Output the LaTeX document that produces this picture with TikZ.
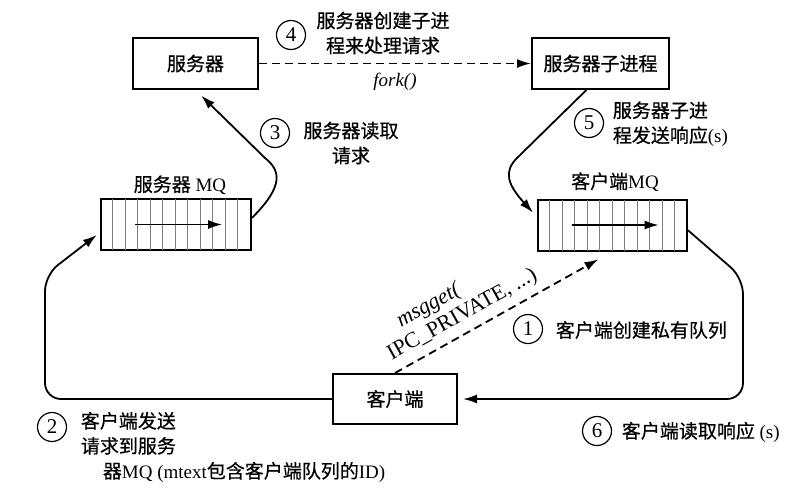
\documentclass[tikz,border=0pt]{standalone}
\usepackage{fontspec}
\setmainfont{Liberation Serif}
\newfontfamily\cjk{Noto Sans CJK SC}[FakeBold=0.6]
\newcommand{\zhtext}[1]{{\cjk #1}}
\usepackage{tikz}
\usetikzlibrary{arrows.meta}

\begin{document}
\begin{tikzpicture}[x=0.5pt, y=-0.5pt, line width=0.9pt,
        every node/.style={font=\fontsize{9.5}{12.5}\selectfont},
        box/.style={rectangle, draw, line width=1pt, minimum width=62.5pt, minimum height=25.5pt},
        queue/.style={rectangle, draw, line width=1pt, minimum width=75pt, minimum height=25.5pt},
        num/.style={circle, draw, line width=0.6pt, minimum size=14.5pt, inner sep=0pt, font=\fontsize{10.5}{12}\selectfont},
        txt/.style={inner sep=0pt},
        arr/.style={-{Latex[length=7pt, width=4.5pt]}},
        dashline/.style={dash pattern=on 4pt off 2.5pt}]
    \useasboundingbox (0,0) rectangle (798,493);

    \node[box] at (195.5,63.5) (srv) {\zhtext{服务器}};
    \node[box, minimum width=68.5pt] at (600.5,63.5) (child) {\zhtext{服务器子进程}};
    \node[box, minimum width=62pt, minimum height=25pt] at (395,399) (cli) {\zhtext{客户端}};
    \node[queue] at (176,224.5) (smq) {};
    \node[queue, minimum width=74.5pt] at (612.5,225) (cmq) {};
    \node at (180,185) (smqlab) {\zhtext{服务器} MQ};
    \node at (615,182) (cmqlab) {\zhtext{客户端}MQ};

    \foreach \q in {smq,cmq} {
        \foreach \x in {1,...,11}
            \draw[gray, line width=0.4pt, shorten <=0.5pt, shorten >=0.5pt] ([xshift=\x*6.25pt]\q.north west) -- ([xshift=\x*6.25pt]\q.south west);
    }
    \draw[arr, line width=0.7pt] ([xshift=-20.5pt]smq.center) -- ([xshift=23pt]smq.center);
    \draw[arr, line width=0.7pt] ([xshift=-20.5pt]cmq.center) -- ([xshift=23pt]cmq.center);

    \draw[dashline, arr] (srv) -- node[below=1pt] (forklab) {\textit{fork()}} (child);
    \draw[arr, shorten >=4pt] (smq.5) .. controls (285,185) and (280,170) .. (265,158) -- (srv.south);
    \draw[arr, shorten >=3pt] (child.242) -- (517,158) .. controls (503,172) and (508,185) .. (cmq.174);
    \draw[arr, rounded corners=8pt, shorten >=2pt] (cli.west) -- (45,399) -- (45,275) -- (smq.186);
    \draw[arr, rounded corners=8pt, shorten >=2.5pt] (cmq.-4) -- (743,278) -- (743,399) -- (cli.east);
    \draw[dashline, arr, shorten >=8pt] (cli.north) -- node[sloped, above=2.5pt, pos=0.35, inner sep=1pt, align=left, font=\fontsize{11}{12}\selectfont] (msglab) {\hspace*{12pt}\textit{msgget(}\\IPC\_PRIVATE, ...)} (cmq.south);

    \node[num] at (291,35) (n4) {4};
    \node[num] at (275,133) (n3) {3};
    \node[num] at (589,123) (n5) {5};
    \node[num] at (528,329) (n1) {1};
    \node[num] at (52,427) (n2) {2};
    \node[num] at (597,431) (n6) {6};

    \node[txt, align=center] at (383,33) (t4) {\zhtext{服务器创建子进}\\\zhtext{程来处理请求}};
    \node[txt, align=center] at (351,143) (t3) {\zhtext{服务器读取}\\\zhtext{请求}};
    \node[txt, anchor=west, align=left] at (612,124) (t5) {\zhtext{服务器子进}\\\zhtext{程发送响应}(s)};
    \node[txt, anchor=west] at (555,330) (t1) {\zhtext{客户端创建私有队列}};
    \node[txt, anchor=west, align=left] at (80,447) (t2) {\zhtext{客户端发送}\\\zhtext{请求到服务}\\\hspace*{11pt}\zhtext{器}MQ (mtext\zhtext{包含客户端队列的}ID)};
    \node[txt, anchor=west] at (621,432) (t6) {\zhtext{客户端读取响应} (s)};
\end{tikzpicture}
\end{document}
